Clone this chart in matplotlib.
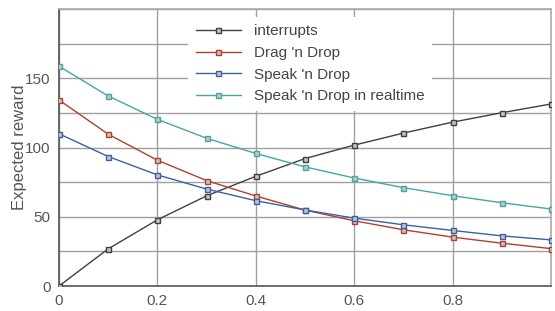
import matplotlib
matplotlib.use("Agg")
import matplotlib.pyplot as plt
from matplotlib.ticker import FixedLocator

plt.rcParams["font.family"] = ["Liberation Sans", "DejaVu Sans"]

# ---------------------------------------------------------------------------
# Data
# ---------------------------------------------------------------------------
x = [0.0, 0.1, 0.2, 0.3, 0.4, 0.5, 0.6, 0.7, 0.8, 0.9, 1.0]
interrupts = [0, 26.8, 47.8, 65.1, 79.2, 92.0, 101.7, 110.4, 118.3, 125.1, 131.4]
drag_drop = [134.3, 109.6, 90.8, 76.1, 65.0, 54.8, 47.1, 40.6, 35.3, 30.9, 27.0]
speak_drop = [109.9, 93.5, 80.2, 70.0, 61.6, 54.9, 49.0, 44.2, 40.1, 36.2, 33.3]
speak_realtime = [158.7, 137.2, 120.3, 106.7, 95.7, 86.0, 78.0, 71.0, 65.2, 60.1, 55.6]

series = [
    ("interrupts", interrupts, "#404040"),
    ("Drag 'n Drop", drag_drop, "#b0402e"),
    ("Speak 'n Drop", speak_drop, "#3c60a8"),
    ("Speak 'n Drop in realtime", speak_realtime, "#45a6a6"),
]

# ---------------------------------------------------------------------------
# Plot
# ---------------------------------------------------------------------------
fig = plt.figure(figsize=(5.55, 3.11), dpi=100)
ax = fig.add_axes([59 / 555, 25 / 311, 492 / 555, 277 / 311])

for label, ys, col in series:
    ax.plot(x, ys, color=col, linewidth=1.0, marker="s", markersize=3.6,
            markerfacecolor="#c4c4c4", markeredgecolor=col,
            markeredgewidth=1.0, label=label, zorder=3)

ax.set_xlim(0, 1.0)
ax.set_ylim(0, 200)
ax.xaxis.set_major_locator(FixedLocator([0, 0.2, 0.4, 0.6, 0.8]))
ax.yaxis.set_major_locator(FixedLocator([0, 50, 100, 150]))
ax.yaxis.set_minor_locator(FixedLocator([25, 75, 125, 175, 200]))
ax.set_xticklabels(["0", "0.2", "0.4", "0.6", "0.8"])
ax.grid(True, which="both", color="#a0a0a0", linewidth=1.0)
ax.set_axisbelow(True)
ax.tick_params(which="both", length=0, labelsize=11, labelcolor="#555555")
ax.tick_params(axis="x", pad=6)
ax.tick_params(axis="y", pad=6)

for side in ["left", "bottom"]:
    ax.spines[side].set_color("#555555")
    ax.spines[side].set_linewidth(1.2)
for side in ["top", "right"]:
    ax.spines[side].set_color("#aaaaaa")
    ax.spines[side].set_linewidth(1.2)

ax.set_ylabel("Expected reward", fontsize=12, color="#555555", labelpad=-1)

leg = ax.legend(loc="upper center", bbox_to_anchor=(0.51, 1.0), fontsize=11,
                handlelength=3.0, labelspacing=0.5, borderpad=0.5,
                fancybox=False, framealpha=1.0)
leg.get_frame().set_edgecolor("none")
for t in leg.get_texts():
    t.set_color("#444444")

plt.savefig("out.png", dpi=100, facecolor="white")
